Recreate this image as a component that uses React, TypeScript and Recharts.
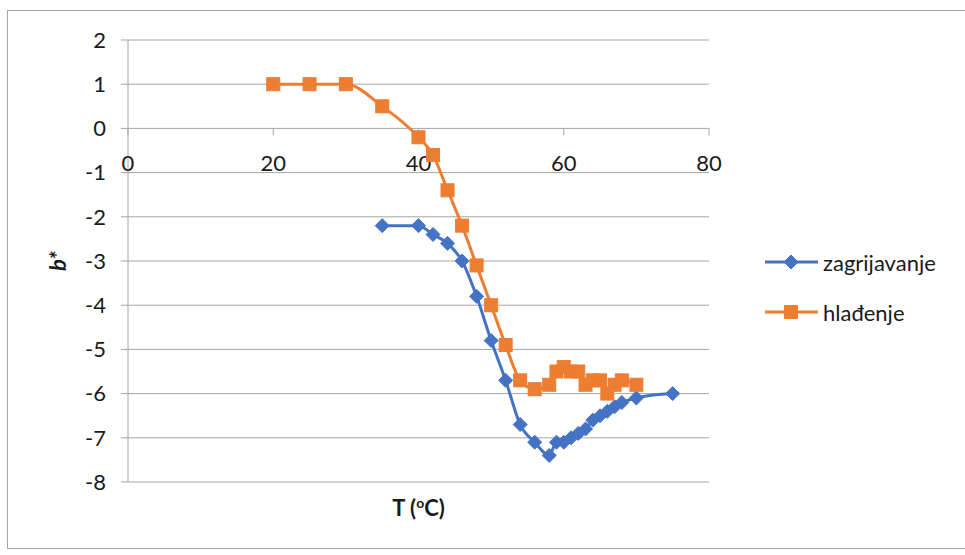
import React from "react";
import { LineChart, Line, XAxis, YAxis, CartesianGrid, ReferenceDot } from "recharts";

const heatT = [35, 40, 42, 44, 46, 48, 50, 52, 54, 56, 58, 59, 60, 61, 62, 63, 64, 65, 66, 67, 68, 70, 75];
const heatB = [-2.2, -2.2, -2.4, -2.6, -3.0, -3.8, -4.8, -5.7, -6.7, -7.1, -7.4, -7.1, -7.1, -7.0, -6.9, -6.8, -6.6, -6.5, -6.4, -6.3, -6.2, -6.1, -6.0];

const coolT = [20, 25, 30, 35, 40, 42, 44, 46, 48, 50, 52, 54, 56, 58, 59, 60, 61, 62, 63, 64, 65, 66, 67, 68, 70];
const coolB = [1, 1, 1, 0.5, -0.2, -0.6, -1.4, -2.2, -3.1, -4.0, -4.9, -5.7, -5.9, -5.8, -5.5, -5.4, -5.5, -5.5, -5.8, -5.7, -5.7, -6.0, -5.8, -5.7, -5.8];

const xTicks = [0, 20, 40, 60, 80];
const yTicks = [-8, -7, -6, -5, -4, -3, -2, -1, 0, 1, 2];

const seriesNames = ["zagrijavanje", "hlađenje"];
const BLUE = "#4472C4";
const ORANGE = "#ED7D31";
const GRID = "#a6a6a6";
const TEXT = "#1a1a1a";
const FONT = "Lato, 'Noto Sans', sans-serif";
const FS = 22;

const heatData = heatT.map((t, i) => ({ t, b: heatB[i] }));
const coolData = coolT.map((t, i) => ({ t, b: coolB[i] }));

const Diamond = (props: any) => {
  const { cx, cy } = props;
  if (cx == null || cy == null) return null;
  const r = 7;
  return <path d={`M${cx},${cy - r}L${cx + r},${cy}L${cx},${cy + r}L${cx - r},${cy}Z`} fill={BLUE} stroke={BLUE} strokeWidth={1} />;
};

const Square = (props: any) => {
  const { cx, cy } = props;
  if (cx == null || cy == null) return null;
  const h = 6.5;
  return <rect x={cx - h} y={cy - h} width={h * 2} height={h * 2} fill={ORANGE} stroke={ORANGE} strokeWidth={1} />;
};

// tick mark + label drawn on the y=0 line, like Excel's crossing axis
const XTickMark = (label: number) => (props: any) => {
  const { cx, cy } = props;
  return (
    <g>
      <line x1={cx} y1={cy} x2={cx} y2={cy + 7} stroke={GRID} strokeWidth={1} />
      <text x={cx} y={cy + 35} dy="0.35em" textAnchor="middle" fontSize={FS} fontFamily={FONT} fill={TEXT}>
        {label}
      </text>
    </g>
  );
};

const LegendBox = () => (
  <div style={{ position: "absolute", left: 757, top: 226, fontFamily: FONT, fontSize: FS, color: TEXT }}>
    {seriesNames.map((name, i) => (
      <div key={name} style={{ display: "flex", alignItems: "center", height: 50 }}>
        <svg width={54} height={20}>
          <line x1={0} y1={10} x2={53} y2={10} stroke={i === 0 ? BLUE : ORANGE} strokeWidth={3} />
          {i === 0 ? <Diamond cx={26} cy={10} /> : <Square cx={26} cy={10} />}
        </svg>
        <span style={{ marginLeft: 4 }}>{name}</span>
      </div>
    ))}
  </div>
);

export default function App() {
  return (
    <div
      style={{
        position: "absolute",
        left: 7,
        top: 10,
        width: 957,
        height: 537,
        borderLeft: "1px solid #a6a6a6",
        borderTop: "1px solid #a6a6a6",
        borderBottom: "1px solid #a6a6a6",
        background: "#fff",
      }}
    >
      <LineChart width={957} height={537} margin={{ top: 29, right: 256, bottom: 0, left: 40 }}>
        <CartesianGrid vertical={false} stroke={GRID} strokeWidth={1} />
        <XAxis
          type="number"
          dataKey="t"
          domain={[0, 80]}
          ticks={xTicks}
          tick={false}
          axisLine={false}
          tickLine={false}
          height={66}
          label={({ viewBox }: any) => (
            <text
              x={viewBox.x + viewBox.width / 2}
              y={viewBox.y + 34}
              textAnchor="middle"
              fontSize={FS}
              fontWeight="bold"
              fontFamily={FONT}
              fill={TEXT}
            >
              T (<tspan fontSize={14} dy={-8}>o</tspan>
              <tspan dy={8}>C)</tspan>
            </text>
          )}
        />
        <YAxis
          type="number"
          dataKey="b"
          domain={[-8, 2]}
          ticks={yTicks}
          width={80}
          interval={0}
          tick={{ fontSize: FS, fontFamily: FONT, fill: TEXT }}
          tickSize={7}
          tickMargin={15}
          axisLine={{ stroke: GRID }}
          tickLine={{ stroke: GRID }}
          label={{
            value: "b*",
            angle: -90,
            position: "insideLeft",
            offset: 10,
            style: { fontSize: FS, fontWeight: "bold", fontStyle: "italic", fontFamily: FONT, fill: TEXT, textAnchor: "middle" },
          }}
        />
        {xTicks.map((v) => (
          <ReferenceDot key={v} x={v} y={0} r={0} shape={XTickMark(v)} ifOverflow="visible" />
        ))}
        <Line
          data={heatData}
          dataKey="b"
          name={seriesNames[0]}
          type="monotone"
          stroke={BLUE}
          strokeWidth={3}
          dot={(p: any) => <Diamond key={`h-${p.index}`} cx={p.cx} cy={p.cy} />}
          activeDot={false}
          isAnimationActive={false}
        />
        <Line
          data={coolData}
          dataKey="b"
          name={seriesNames[1]}
          type="monotone"
          stroke={ORANGE}
          strokeWidth={3}
          dot={(p: any) => <Square key={`c-${p.index}`} cx={p.cx} cy={p.cy} />}
          activeDot={false}
          isAnimationActive={false}
        />
      </LineChart>
      <LegendBox />
    </div>
  );
}
